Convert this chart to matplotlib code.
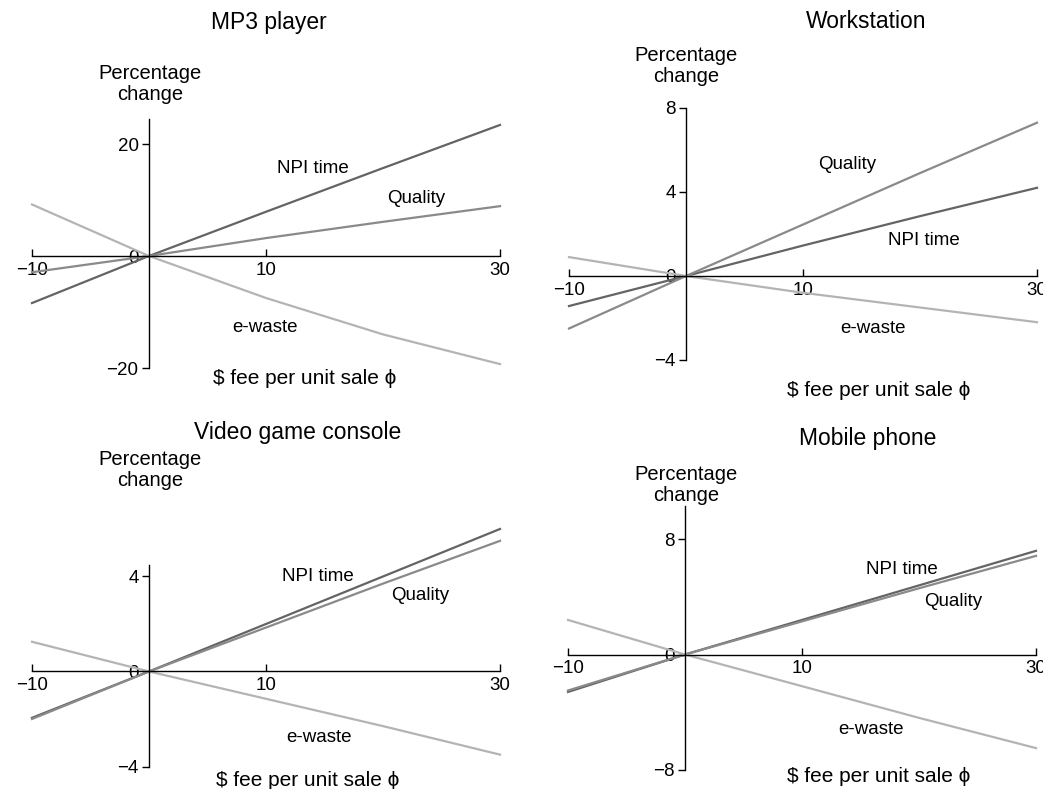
import numpy as np
import matplotlib
matplotlib.use("Agg")
import matplotlib.pyplot as plt

plt.rcParams['font.family'] = ['Liberation Sans', 'DejaVu Sans']
plt.rcParams['font.size'] = 13.5

# data: percentage change vs. fee per unit sale
fee = [-10, 0, 10, 20, 30]
titles = ["MP3 player", "Workstation", "Video game console", "Mobile phone"]
names = ["NPI time", "Quality", "e-waste"]

mp3_npi = [-8.4, 0, 7.9, 15.7, 23.4]
mp3_quality = [-2.9, 0, 3.2, 6.1, 8.9]
mp3_ewaste = [9.2, 0, -7.5, -14.0, -19.3]

ws_npi = [-1.43, 0, 1.45, 2.85, 4.2]
ws_quality = [-2.5, 0, 2.45, 4.9, 7.3]
ws_ewaste = [0.9, 0, -0.8, -1.5, -2.2]

vg_npi = [-1.95, 0, 2.0, 4.0, 6.0]
vg_quality = [-2.0, 0, 1.85, 3.7, 5.5]
vg_ewaste = [1.25, 0, -1.15, -2.3, -3.5]

mp_npi = [-2.6, 0, 2.4, 4.8, 7.2]
mp_quality = [-2.5, 0, 2.3, 4.6, 6.85]
mp_ewaste = [2.4, 0, -2.2, -4.4, -6.5]

series = [
  [mp3_npi, mp3_quality, mp3_ewaste],
  [ws_npi, ws_quality, ws_ewaste],
  [vg_npi, vg_quality, vg_ewaste],
  [mp_npi, mp_quality, mp_ewaste],
]
xticks = [-10, 10, 30]
yticks = [[-20, 0, 20], [-4, 0, 4, 8], [-4, 0, 4], [-8, 0, 8]]
ylims = [(-20, 24.5), (-4, 8), (-4, 4.5), (-8, 10.3)]

# where the curve labels sit (data coords)
label_pos = [
  [(14.0, 15.7), (22.8, 10.2), (9.9, -12.7)],
  [(20.3, 1.7), (13.8, 5.3), (16.0, -2.5)],
  [(14.4, 4.0), (23.2, 3.2), (14.5, -2.8)],
  [(18.5, 5.9), (22.9, 3.7), (15.9, -5.2)],
]

colors = ["#646464", "#8a8a8a", "#b4b4b4"]

W, H = 1043, 789
fig = plt.figure(figsize=(W/100, H/100), dpi=100)

def fpos(x, y):
  return x/W, 1 - y/H

# panel boxes in pixels: left, right, top, bottom
boxes = [(32, 500, 118.8, 368), (569, 1037, 108, 360),
         (32, 500, 564.6, 766.5), (568, 1036, 506.2, 769.7)]
title_xy = [(269, 22), (866, 22), (298, 432), (868, 438)]
ylabel_xy = [(150, 84), (686, 66), (150, 470), (686, 485)]
xlabel_xy = [(305, 378), (879, 390), (308, 780), (879, 777)]

for i in range(4):
  l, r, t, b = boxes[i]
  ax = fig.add_axes([l/W, 1 - b/H, (r-l)/W, (b-t)/H])
  ax.set_xlim(-10, 30)
  ax.set_ylim(*ylims[i])

  for k in range(3):
    ax.plot(fee, series[i][k], color=colors[k], lw=1.6, clip_on=False, zorder=2)
    ax.text(label_pos[i][k][0], label_pos[i][k][1], names[k], ha='center', va='center')

  for s in ['top', 'right']:
    ax.spines[s].set_visible(False)
  ax.spines['left'].set_position(('data', 0))
  ax.spines['bottom'].set_position(('data', 0))
  ax.spines['left'].set_bounds(ylims[i][0], ylims[i][1])
  ax.spines['bottom'].set_bounds(-10, 30)
  ax.spines['left'].set_linewidth(1.0)
  ax.spines['bottom'].set_linewidth(1.0)

  ax.set_xticks(xticks)
  ax.set_yticks(yticks[i])
  ax.tick_params(axis='x', direction='in', length=5, width=1, pad=4)
  ax.tick_params(axis='y', direction='out', length=5, width=1, pad=2.5)
  for lbl in ax.get_xticklabels() + ax.get_yticklabels():
    lbl.set_bbox(dict(facecolor='white', edgecolor='none', pad=1))

  fig.text(*fpos(*title_xy[i]), titles[i], ha='center', va='center', fontsize=16.5)
  fig.text(*fpos(*ylabel_xy[i]), "Percentage\nchange", ha='center', va='center',
           fontsize=14.5, linespacing=1.1)
  fig.text(*fpos(*xlabel_xy[i]), "$ fee per unit sale \u03d5", ha='center', va='center',
           fontsize=15)

plt.savefig("out.png", dpi=100)
